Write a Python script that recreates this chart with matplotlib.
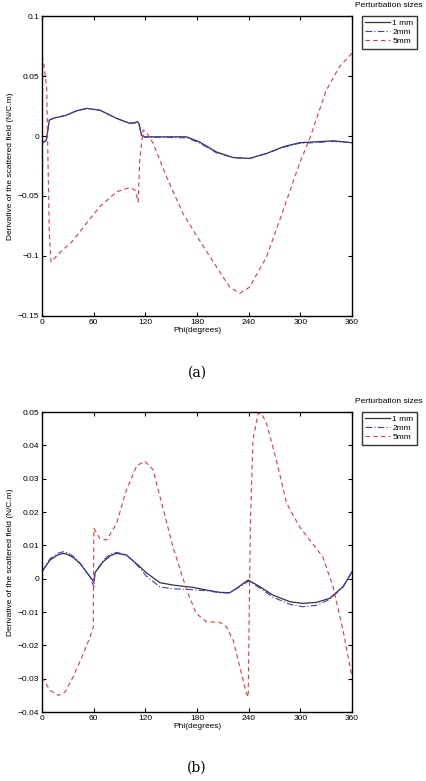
import numpy as np
import matplotlib
matplotlib.use("Agg")
import matplotlib.pyplot as plt
from matplotlib.ticker import FuncFormatter

plt.rcParams['font.family'] = ['Liberation Sans', 'DejaVu Sans']

##################################################
##                 DATOS (a)
##################################################

phi_a_1mm = [0, 5, 8.5, 13, 28.6, 40, 52, 67, 86.6, 102, 108, 110.5, 112.5, 115.6, 119.5,
             144.6, 168, 183, 202.6, 222, 241, 260.6, 280, 299, 318.6, 338, 360]
val_a_1mm = [-0.006, -0.0035, 0.0133, 0.0147, 0.0174, 0.021, 0.023, 0.0216, 0.0147, 0.0105, 0.011,
             0.012, 0.0105, 0.0007, -0.0007, -0.0007, -0.0007, -0.005, -0.0133, -0.018, -0.0187,
             -0.0146, -0.009, -0.0056, -0.0048, -0.004, -0.0056]

phi_a_2mm = phi_a_1mm
val_a_2mm = [-0.006, -0.0035, 0.0133, 0.0147, 0.0174, 0.021, 0.023, 0.0216, 0.0147, 0.0105, 0.011,
             0.012, 0.0105, 0.0005, -0.001, -0.0012, -0.0015, -0.0058, -0.014, -0.018, -0.0187,
             -0.0146, -0.0095, -0.006, -0.0055, -0.0045, -0.0056]

phi_a_5mm = [0, 2, 5.4, 8.5, 10.4, 20.9, 35, 48, 67, 86.6, 102, 108, 111.7, 113.5, 117.5, 121,
             129, 144.6, 164, 183, 202.6, 218, 229.7, 241, 260.6, 280, 299, 311, 330, 345.7, 360]
val_a_5mm = [0.0666, 0.06, 0.041, -0.081, -0.105, -0.097, -0.088, -0.076, -0.059, -0.0465, -0.043,
             -0.045, -0.055, -0.02, 0.005, 0.0035, -0.006, -0.034, -0.065, -0.087, -0.109, -0.126,
             -0.131, -0.126, -0.101, -0.062, -0.023, -0.002, 0.038, 0.058, 0.069]

##################################################
##                 DATOS (b)
##################################################

phi_b_1mm = [0, 9.3, 18, 24.7, 28.6, 36, 44, 55.7, 60.3, 61.5, 71, 80, 86.6, 98, 113.7, 121, 137,
             152, 175.5, 191, 206.6, 218, 225.8, 239.4, 243, 253, 268, 287.8, 303, 318.6, 334,
             349.5, 360]
val_b_1mm = [0.0021, 0.0056, 0.0071, 0.0076, 0.0074, 0.0064, 0.0046, 0.0006, -0.0009, 0.0018,
             0.0051, 0.007, 0.0076, 0.0071, 0.0036, 0.0018, -0.0012, -0.0019, -0.0026, -0.0034,
             -0.0041, -0.0042, -0.0029, -0.0004, -0.0009, -0.0024, -0.0049, -0.0069, -0.0074,
             -0.0071, -0.0059, -0.0024, 0.0021]

phi_b_2mm = phi_b_1mm
val_b_2mm = [0.0021, 0.006, 0.0076, 0.0081, 0.0079, 0.0068, 0.0048, 0.0006, -0.0025, 0.0018,
             0.0055, 0.0075, 0.0079, 0.0072, 0.0032, 0.0008, -0.0025, -0.003, -0.0033, -0.0036,
             -0.0042, -0.0043, -0.003, -0.0008, -0.0012, -0.0028, -0.0055, -0.0077, -0.0084,
             -0.008, -0.0062, -0.0026, 0.0021]

phi_b_5mm = [0, 9.3, 19, 26.7, 36, 48, 55.7, 59.5, 60.3, 67, 75, 86.6, 98, 110, 119.5, 129, 141,
             152, 168, 179, 191, 206.6, 214, 222, 229.7, 237.5, 239.4, 242, 245, 251, 255, 260.6,
             272, 284, 299, 314, 326, 338, 349.5, 360]
val_b_5mm = [-0.0295, -0.0335, -0.035, -0.034, -0.0295, -0.0225, -0.0175, -0.0145, 0.0151, 0.0121,
             0.0116, 0.0166, 0.0266, 0.0339, 0.0352, 0.0327, 0.0206, 0.0096, -0.0034, -0.0104,
             -0.0129, -0.0131, -0.0144, -0.0184, -0.0265, -0.0345, -0.0355, 0.0166, 0.0417,
             0.0497, 0.0495, 0.0467, 0.0357, 0.0227, 0.0156, 0.0106, 0.0066, -0.0024, -0.0154,
             -0.0295]

labels = ["1 mm", "2mm", "5mm"]
xticks = [0, 60, 120, 180, 240, 300, 360]
yticks_a = [-0.15, -0.1, -0.05, 0, 0.05, 0.1]
yticks_b = [-0.04, -0.03, -0.02, -0.01, 0, 0.01, 0.02, 0.03, 0.04, 0.05]

##################################################
##                 GRAFICAR
##################################################

fig = plt.figure(figsize=(4.26, 7.81), dpi=100)

def fmt(v, pos):
    s = "%g" % v
    return s.replace("-", "\u2212")

def panel(rect, series, yticks, caption, cap_y):
    ax = fig.add_axes(rect)
    styles = [dict(color="#333333", ls="-", lw=0.9),
              dict(color="#3a3ae0", ls=(0, (6, 2, 1, 2)), lw=0.8),
              dict(color="#e8383a", ls=(0, (4, 3)), lw=0.8)]
    hs = []
    for (x, y), st, lab in zip(series, styles, labels):
        h, = ax.plot(x, y, label=lab, **st)
        hs.append(h)
    ax.set_xlim(0, 360)
    ax.set_ylim(yticks[0], yticks[-1])
    ax.set_xticks(xticks)
    ax.set_yticks(yticks)
    ax.yaxis.set_major_formatter(FuncFormatter(fmt))
    ax.tick_params(direction="in", top=True, right=True, labelsize=6, length=3, pad=2)
    ax.set_xlabel("Phi(degrees)", fontsize=6, labelpad=1)
    ax.set_ylabel("Derivative of the scattered field (N/C.m)", fontsize=6, labelpad=3)
    for sp in ax.spines.values():
        sp.set_linewidth(1.0)
    leg = ax.legend(hs, labels, loc="upper left", bbox_to_anchor=(1.032, 1.0), fontsize=6,
                    handlelength=3.0, handletextpad=0.25, borderpad=0.4, labelspacing=0.15,
                    frameon=True, fancybox=False, edgecolor="black", borderaxespad=0)
    leg.get_frame().set_linewidth(1.0)
    ax.text(1.12, 1.035, "Perturbation sizes", transform=ax.transAxes, fontsize=6,
            ha="center", va="center")
    fig.text(0.5 * (rect[0] * 2 + rect[2]), cap_y, caption, fontsize=10,
             family="DejaVu Serif", ha="center", va="center")
    return ax

panel([0.0986, 0.5954, 0.7277, 0.3841],
      [(phi_a_1mm, val_a_1mm), (phi_a_2mm, val_a_2mm), (phi_a_5mm, val_a_5mm)],
      yticks_a, "(a)", 1 - 373 / 781)
panel([0.0986, 0.0883, 0.7277, 0.3841],
      [(phi_b_1mm, val_b_1mm), (phi_b_2mm, val_b_2mm), (phi_b_5mm, val_b_5mm)],
      yticks_b, "(b)", 1 - 768 / 781)

fig.savefig("out.png", dpi=100)
